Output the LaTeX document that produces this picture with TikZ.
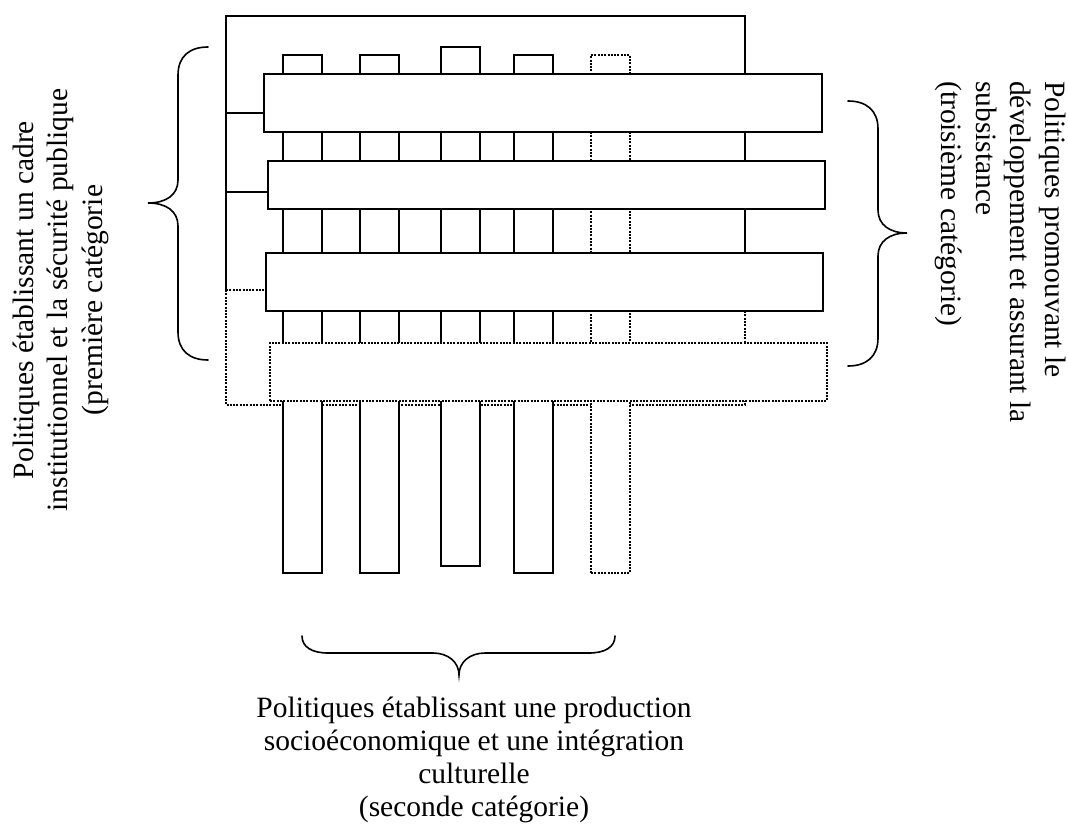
\documentclass[tikz,border=0pt]{standalone}
\usepackage{fontspec}
\setmainfont{Liberation Serif}
\begin{document}
\begin{tikzpicture}[x=1pt,y=-1pt,
  solidline/.style={line width=1.6pt},
  dotline/.style={line width=1.6pt, dash pattern=on 2pt off 1.3pt},
  block/.style={draw, fill=white, inner sep=0pt, outer sep=0pt, anchor=north west, line width=1.6pt},
  ghost/.style={block, dash pattern=on 2pt off 1.3pt},
  bracepath/.style={line width=1.6pt, line cap=round},
  captxt/.style={font=\fontsize{29.5}{34.5}\selectfont, inner sep=0pt}
]
\useasboundingbox (0,0) rectangle (1068,824);

% reference heights for the frame edges and connectors
\coordinate (ya) at (0,113);
\coordinate (yb) at (0,192);
\coordinate (yc) at (0,290);
\coordinate (yd) at (0,282);

% outer frame: solid upper part, dotted lower part
\node[inner sep=0pt, outer sep=0pt, anchor=north west, minimum width=519pt, minimum height=389pt] (frame) at (226,16) {};
\draw[solidline] (frame.west |- yc) -- (frame.north west) -- (frame.north east) -- (frame.east |- yd);
\draw[dotline] (frame.west |- yc) -- (frame.south west) -- (frame.south east) -- (frame.east |- yd);

% vertical columns
\node[block, minimum width=39pt, minimum height=518pt] (c1) at (283,55) {};
\node[block, minimum width=39pt, minimum height=518pt] (c2) at (360,55) {};
\node[block, minimum width=39pt, minimum height=519pt] (c3) at (441,47) {};
\node[block, minimum width=39pt, minimum height=518pt] (c4) at (514,55) {};
\node[ghost, minimum width=39pt, minimum height=518pt] (c5) at (591,55) {};

% horizontal bars
\node[block, minimum width=558pt, minimum height=58pt] (b1) at (264,74) {};
\node[block, minimum width=557pt, minimum height=48pt] (b2) at (268,161) {};
\node[block, minimum width=557pt, minimum height=58pt] (b3) at (266,253) {};
\node[ghost, minimum width=557pt, minimum height=58pt] (b4) at (270,343) {};

% links from the frame to the bars
\draw[solidline] (frame.west |- ya) -- (b1.west |- ya);
\draw[solidline] (frame.west |- yb) -- (b2.west |- yb);
\draw[dotline] (frame.west |- yc) -- (b3.west |- yc);

% braces
\draw[bracepath] (208,47) .. controls (190,47) and (178,56) .. (178,75) -- (178,180)
  .. controls (178,195) and (166,203) .. (148,203)
  .. controls (166,203) and (178,211) .. (178,226) -- (178,332)
  .. controls (178,351) and (190,360) .. (208,360);
\draw[bracepath] (848,101) .. controls (866,101) and (878,110) .. (878,129) -- (878,210)
  .. controls (878,225) and (890,233) .. (907,233)
  .. controls (890,233) and (878,241) .. (878,256) -- (878,338)
  .. controls (878,357) and (866,366) .. (848,366);
\draw[bracepath] (302,636) .. controls (302,647) and (312,653) .. (328,653) -- (433,653)
  .. controls (448,653) and (459,662) .. (459,675)
  .. controls (459,662) and (470,653) .. (485,653) -- (589,653)
  .. controls (605,653) and (615,647) .. (615,636);

% category labels
\node[captxt, rotate=90, align=center] (tl) at (60.5,300)
  {Politiques établissant un cadre\\institutionnel et la sécurité publique\\(première catégorie};
\node[captxt, rotate=-90, align=left, anchor=north west] (tr) at (1066,81)
  {Politiques promouvant le\\développement et assurant la\\subsistance\\(troisième catégorie)};
\node[captxt, font=\fontsize{29.5}{33}\selectfont, align=center, anchor=north] (tb) at (474,697)
  {Politiques établissant une production\\socioéconomique et une intégration\\culturelle\\(seconde catégorie)};
\end{tikzpicture}
\end{document}
